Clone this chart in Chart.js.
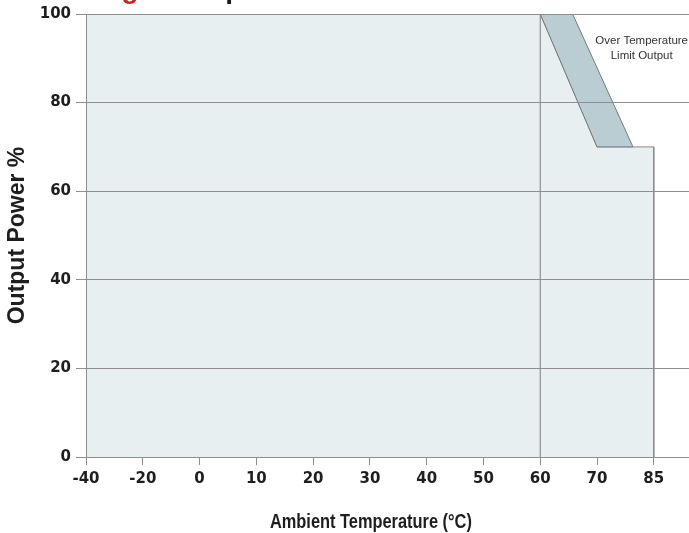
<!DOCTYPE html>
<html>
<head>
<meta charset="utf-8">
<script src="https://cdn.jsdelivr.net/npm/chart.js"></script>
<style>
    html, body {
        margin: 0;
        padding: 0;
        background: #ffffff;
        overflow: hidden;
    }
    .wrap {
        position: relative;
        width: 689px;
        height: 533px;
    }
    .head {
        position: absolute;
        top: -25px;
        left: 25px;
        font: bold 28px "Liberation Sans", Arial, sans-serif;
        line-height: 28px;
        white-space: nowrap;
        color: #1a1a1a;
    }
    .head span {
        color: #c1272d;
    }
</style>
</head>
<body>
<div class="wrap">
    <div class="head"><span>Derating</span> – Temperature</div>
    <canvas id="chart" width="689" height="533"></canvas>
</div>

<script>
// -----------------------------
// DATA
// -----------------------------
const tickTemps = [-40, -20, 0, 10, 20, 30, 40, 50, 60, 70, 85];
const yTicks = [0, 20, 40, 60, 80, 100];

// safe operating area
const safeTemps = [-40, 60, 70, 85, 85];
const safePower = [100, 100, 70, 70, 0];

// over temperature limit band
const otlTemps = [60, 65.7, 79.5, 70, 60];
const otlPower = [100, 100, 70, 70, 100];

// vertical marker at 60 C
const markTemps = [60, 60];
const markPower = [0, 100];

const noteLines = ["Over Temperature", "Limit Output"];
const noteTemp = 81.8;
const notePower = 94;

const xTitle = "Ambient Temperature (°C)";

// temperature -> position on the (non uniform) axis
function toAxis(t) {
    for (let i = 0; i < tickTemps.length - 1; i++) {
        const a = tickTemps[i], b = tickTemps[i + 1];
        if (t >= a && t <= b) return i + (t - a) / (b - a);
    }
    return tickTemps.length - 1;
}

function pts(xs, ys) {
    return xs.map((t, i) => ({ x: toAxis(t), y: ys[i] }));
}

const GRID = "#8e8e8e";
const INK = "#1e1e1e";

// -----------------------------
// NOTE TEXT + CONDENSED X TITLE
// -----------------------------
const notePlugin = {
    id: "note",
    afterDatasetsDraw(chart) {
        const ctx = chart.ctx;
        const x = chart.scales.x.getPixelForValue(toAxis(noteTemp));
        const y = chart.scales.y.getPixelForValue(notePower);
        ctx.save();
        ctx.fillStyle = "#333333";
        ctx.font = '11.5px "Liberation Sans", Arial, sans-serif';
        ctx.textAlign = "center";
        ctx.textBaseline = "middle";
        noteLines.forEach((s, i) => ctx.fillText(s, x, y + i * 15));
        ctx.restore();
    },
    afterDraw(chart) {
        const ctx = chart.ctx;
        const a = chart.chartArea;
        const cx = (a.left + chart.scales.x.getPixelForValue(10)) / 2;
        ctx.save();
        ctx.translate(cx + 1, 522);
        ctx.scale(0.78, 1);
        ctx.fillStyle = INK;
        ctx.font = 'bold 21px "Liberation Sans", Arial, sans-serif';
        ctx.textAlign = "center";
        ctx.textBaseline = "middle";
        ctx.fillText(xTitle, 0, 0);
        ctx.restore();
    }
};

new Chart(document.getElementById("chart"), {
    type: "line",
    data: {
        datasets: [
            {
                data: pts(markTemps, markPower),
                borderColor: "#7d7d7d",
                borderWidth: 1,
                pointRadius: 0,
                fill: false
            },
            {
                data: pts(otlTemps, otlPower),
                borderColor: "#6f7d81",
                borderWidth: 1,
                backgroundColor: "#b9cdd3",
                pointRadius: 0,
                fill: "shape"
            },
            {
                data: pts(safeTemps, safePower),
                borderColor: "#8c8c8c",
                borderWidth: 1,
                backgroundColor: "#e7eff1",
                pointRadius: 0,
                fill: "origin"
            }
        ]
    },
    options: {
        responsive: false,
        animation: false,
        layout: { padding: { top: 12, right: 0, left: 0, bottom: 0 } },
        plugins: {
            legend: { display: false },
            tooltip: { enabled: false }
        },
        scales: {
            x: {
                type: "linear",
                min: 0,
                max: 10.62,
                afterBuildTicks(s) {
                    s.ticks = tickTemps.map((_, i) => ({ value: i }));
                },
                afterFit(s) { s.height = 76; },
                ticks: {
                    padding: 5,
                    autoSkip: false,
                    maxRotation: 0,
                    color: INK,
                    font: { family: "'DejaVu Sans'", size: 15, weight: "bold" },
                    callback: v => tickTemps[v]
                },
                grid: {
                    drawOnChartArea: false,
                    drawTicks: true,
                    tickLength: 8,
                    color: GRID
                },
                border: { display: true, color: GRID, z: 1 },
                title: { display: false }
            },
            y: {
                min: 0,
                max: 100,
                afterBuildTicks(s) {
                    s.ticks = yTicks.map(v => ({ value: v }));
                },
                afterFit(s) { s.width = 86; },
                ticks: {
                    padding: 5,
                    color: INK,
                    font: { family: "'DejaVu Sans'", size: 15, weight: "bold" }
                },
                grid: {
                    color: GRID,
                    lineWidth: 1,
                    tickLength: 10,
                    z: 1
                },
                border: { display: true, color: GRID, z: 1 },
                title: {
                    display: true,
                    text: "Output Power %",
                    color: INK,
                    padding: { top: 4, bottom: 0 },
                    font: { family: "'Liberation Sans', Arial, sans-serif", size: 23, weight: "bold" }
                }
            }
        }
    },
    plugins: [notePlugin]
});
</script>
</body>
</html>
